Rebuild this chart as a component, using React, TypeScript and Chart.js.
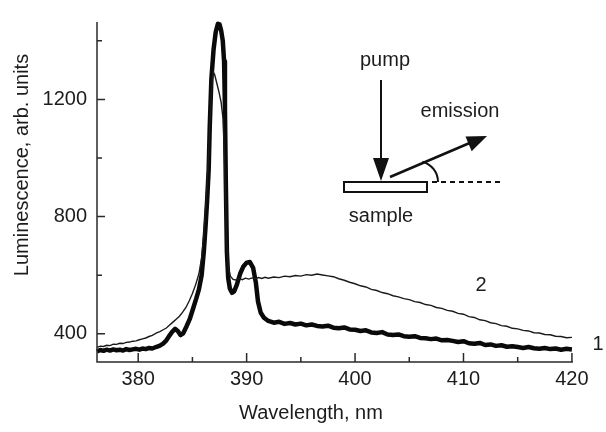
import React, { useEffect, useRef } from "react";
import { Chart, registerables } from "chart.js";

Chart.register(...registerables);

// ---------- data ----------
const wl1 = [
  376.2, 376.5, 376.8, 377.1, 377.4, 377.7, 378.0, 378.3, 378.6, 378.9, 379.2, 379.5, 379.8, 380.1, 380.4, 380.7,
  381.0, 381.3, 381.7, 382.0, 382.3, 382.6, 382.9, 383.15, 383.4, 383.65, 383.9, 384.15, 384.45, 384.75, 385.05,
  385.35, 385.6, 385.85, 386.05, 386.2, 386.35, 386.5, 386.6, 386.75, 386.95, 387.15, 387.35, 387.5, 387.65, 387.8,
  387.92, 388.0, 388.08, 388.18, 388.3, 388.45, 388.65, 388.85, 389.1, 389.4, 389.7, 390.0, 390.3, 390.6, 390.85,
  391.05, 391.3, 391.6, 392.0, 392.5, 393.0, 393.5, 394.0, 394.5, 395.0, 395.5, 396.0, 396.5, 397.0, 397.5, 398.0,
  398.5, 399.0, 399.5, 400.0, 400.5, 401.0, 401.5, 402.0, 402.5, 403.0, 403.5, 404.0, 404.5, 405.0, 405.5, 406.0,
  406.5, 407.0, 407.5, 408.0, 408.5, 409.0, 409.5, 410.0, 410.5, 411.0, 411.5, 412.0, 412.5, 413.0, 413.5, 414.0,
  414.5, 415.0, 415.5, 416.0, 416.5, 417.0, 417.5, 418.0, 418.5, 419.0, 419.5, 420.0,
];
const lum1 = [
  340, 345, 342, 346, 343, 347, 344, 346, 343, 348, 345, 347, 349, 346, 350, 348,
  352, 350, 356, 360, 367, 378, 395, 408, 417, 410, 396, 402, 425, 450, 485,
  520, 552, 600, 680, 760, 850, 960, 1110, 1270, 1370, 1430, 1458, 1456, 1435, 1400,
  1330, 1170, 920, 680, 590, 555, 540, 545, 568, 605, 630, 643, 645, 625, 575,
  510, 472, 455, 444, 438, 441, 434, 437, 432, 435, 429, 432, 427, 425, 428, 421,
  419, 422, 415, 414, 410, 412, 405, 403, 406, 398, 396, 398, 392, 390, 392, 386,
  385, 382, 384, 378, 379, 376, 372, 375, 368, 366, 369, 362, 364, 359, 361, 356,
  358, 355, 352, 355, 351, 349, 352, 348, 350, 346, 349, 347,
];

const wl2 = [
  376.2, 376.5, 376.8, 377.1, 377.4, 377.7, 378.0, 378.3, 378.6, 378.9, 379.2, 379.5, 379.8, 380.1, 380.4, 380.7,
  381.0, 381.3, 381.7, 382.0, 382.3, 382.6, 382.9, 383.2, 383.5, 383.8, 384.1, 384.4, 384.7, 385.0, 385.3, 385.6,
  385.85, 386.05, 386.25, 386.45, 386.6, 386.75, 386.9, 387.05, 387.25, 387.45, 387.65, 387.82, 387.95, 388.05,
  388.15, 388.3, 388.5, 388.75, 389.0, 389.3, 389.6, 389.9, 390.2, 390.5, 390.8, 391.1, 391.4, 391.7, 392.0, 392.5,
  393.0, 393.5, 394.0, 394.5, 395.0, 395.5, 396.0, 396.5, 397.0, 397.5, 398.0, 398.5, 399.0, 399.5, 400.0, 400.5,
  401.0, 401.5, 402.0, 402.5, 403.0, 403.5, 404.0, 404.5, 405.0, 405.5, 406.0, 406.5, 407.0, 407.5, 408.0, 408.5,
  409.0, 409.5, 410.0, 410.5, 411.0, 411.5, 412.0, 412.5, 413.0, 413.5, 414.0, 414.5, 415.0, 415.5, 416.0, 416.5,
  417.0, 417.5, 418.0, 418.5, 419.0, 419.5, 420.0,
];
const lum2 = [
  354, 358, 357, 361, 360, 365, 364, 368, 367, 371, 372, 375, 376, 380, 383, 386,
  391, 395, 403, 408, 414, 420, 430, 440, 450, 460, 474, 490, 512, 538, 568, 605,
  660, 740, 850, 980, 1110, 1220, 1295, 1285, 1255, 1225, 1190, 1135, 1010, 860,
  720, 630, 597, 586, 584, 589, 585, 590, 587, 591, 588, 592, 589, 593, 590, 594,
  592, 597, 595, 599, 597, 602, 600, 604, 601, 598, 595, 588, 583, 576, 571, 564,
  560, 552, 548, 541, 537, 530, 526, 520, 517, 510, 507, 500, 497, 490, 487, 480,
  477, 470, 467, 459, 456, 448, 445, 438, 435, 428, 426, 419, 417, 412, 410, 404,
  403, 398, 397, 392, 391, 387, 388,
];

const xTicks = [380, 390, 400, 410, 420];
const xMinorTicks = [385, 395, 405, 415];
const yTicks = [400, 800, 1200];
const yMinorTicks = [600, 1000, 1400];

const xTitle = "Wavelength, nm";
const yTitle = "Luminescence, arb. units";
const seriesLabels = ["1", "2"];
const insetTexts = { pump: "pump", emission: "emission", sample: "sample" };

const FONT = '"Liberation Sans", Arial, Helvetica, sans-serif';
const INK = "#1c1c1c";

const decorPlugin = {
  id: "decor",
  afterDraw(chart: any) {
    const { ctx, chartArea: a, scales } = chart;
    const x = scales.x;
    const y = scales.y;
    ctx.save();
    ctx.strokeStyle = "#2a2a2a";
    ctx.lineWidth = 1.5;
    ctx.lineCap = "butt";
    // axes
    ctx.beginPath();
    ctx.moveTo(a.left, a.top);
    ctx.lineTo(a.left, a.bottom);
    ctx.lineTo(a.right, a.bottom);
    ctx.stroke();
    // ticks (inward)
    ctx.beginPath();
    xTicks.forEach((v) => {
      const p = x.getPixelForValue(v);
      ctx.moveTo(p, a.bottom);
      ctx.lineTo(p, a.bottom - 9);
    });
    xMinorTicks.forEach((v) => {
      const p = x.getPixelForValue(v);
      ctx.moveTo(p, a.bottom);
      ctx.lineTo(p, a.bottom - 5);
    });
    yTicks.forEach((v) => {
      const p = y.getPixelForValue(v);
      ctx.moveTo(a.left, p);
      ctx.lineTo(a.left + 8, p);
    });
    yMinorTicks.forEach((v) => {
      const p = y.getPixelForValue(v);
      ctx.moveTo(a.left, p);
      ctx.lineTo(a.left + 5, p);
    });
    ctx.stroke();

    // titles
    ctx.fillStyle = INK;
    ctx.font = `20px ${FONT}`;
    ctx.textAlign = "center";
    ctx.textBaseline = "middle";
    ctx.fillText(xTitle, 311, 413);
    ctx.save();
    ctx.translate(22, 165);
    ctx.rotate(-Math.PI / 2);
    ctx.fillText(yTitle, 0, 0);
    ctx.restore();

    // series labels
    ctx.fillText(seriesLabels[0], 598, 344);
    ctx.fillText(seriesLabels[1], 481, 285);

    // inset
    ctx.fillText(insetTexts.pump, 385, 60);
    ctx.fillText(insetTexts.emission, 460, 111);
    ctx.fillText(insetTexts.sample, 381, 216);

    ctx.strokeStyle = "#111";
    ctx.fillStyle = "#111";
    // pump arrow
    ctx.lineWidth = 2;
    ctx.beginPath();
    ctx.moveTo(381, 80);
    ctx.lineTo(381, 162);
    ctx.stroke();
    ctx.beginPath();
    ctx.moveTo(373, 158);
    ctx.lineTo(389, 158);
    ctx.lineTo(381, 181);
    ctx.closePath();
    ctx.fill();
    // sample
    ctx.fillStyle = "#fff";
    ctx.fillRect(344, 182, 83, 10);
    ctx.lineWidth = 2;
    ctx.strokeRect(344, 182, 83, 10);
    ctx.fillStyle = "#111";
    // emission arrow
    ctx.lineWidth = 2.5;
    ctx.beginPath();
    ctx.moveTo(390, 177);
    ctx.lineTo(472, 142);
    ctx.stroke();
    ctx.beginPath();
    ctx.moveTo(487, 136);
    ctx.lineTo(471.7, 151.2);
    ctx.lineTo(465.5, 136.4);
    ctx.closePath();
    ctx.fill();
    // angle arc
    ctx.lineWidth = 2;
    ctx.beginPath();
    ctx.arc(417, 182, 21, -1.31, 0);
    ctx.stroke();
    // dashed reference
    ctx.setLineDash([5, 4]);
    ctx.beginPath();
    ctx.moveTo(432, 182);
    ctx.lineTo(500, 182);
    ctx.stroke();
    ctx.setLineDash([]);
    ctx.restore();
  },
};

export default function App() {
  const ref = useRef<HTMLCanvasElement | null>(null);
  useEffect(() => {
    if (!ref.current) return;
    const d1 = wl1.map((w, i) => ({ x: w, y: lum1[i] }));
    const d2 = wl2.map((w, i) => ({ x: w, y: lum2[i] }));
    const chart = new Chart(ref.current, {
      type: "line",
      data: {
        datasets: [
          {
            label: "1",
            data: d1,
            borderColor: "#0a0a0a",
            borderWidth: 4.5,
            pointRadius: 0,
            tension: 0,
            borderJoinStyle: "round",
            order: 2,
            clip: false,
          },
          {
            label: "2",
            data: d2,
            borderColor: "#1a1a1a",
            borderWidth: 1.4,
            pointRadius: 0,
            tension: 0,
            order: 1,
            clip: false,
          },
        ],
      },
      options: {
        responsive: false,
        animation: false,
        layout: { padding: { top: 12, right: 33, left: 0, bottom: 0 } },
        plugins: { legend: { display: false }, tooltip: { enabled: false } },
        scales: {
          x: {
            type: "linear",
            min: 376.2,
            max: 420.1,
            grid: { display: false, drawTicks: false },
            border: { display: false },
            afterBuildTicks: (s: any) => {
              s.ticks = xTicks.map((v) => ({ value: v }));
            },
            afterFit: (s: any) => {
              s.height = 70;
            },
            ticks: {
              color: INK,
              font: { family: FONT, size: 20 },
              padding: 5,
              maxRotation: 0,
              callback: (v: any) => String(v),
            },
          },
          y: {
            type: "linear",
            min: 304,
            max: 1464,
            grid: { display: false, drawTicks: false },
            border: { display: false },
            afterBuildTicks: (s: any) => {
              s.ticks = yTicks.map((v) => ({ value: v }));
            },
            afterFit: (s: any) => {
              s.width = 97;
            },
            ticks: {
              color: INK,
              font: { family: FONT, size: 20 },
              padding: 10,
              callback: (v: any) => String(v),
            },
          },
        },
      },
      plugins: [decorPlugin],
    });
    return () => chart.destroy();
  }, []);
  return (
    <div style={{ position: "fixed", left: 0, top: 0, width: 606, height: 432, background: "#fff" }}>
      <canvas ref={ref} width={606} height={432} />
    </div>
  );
}
